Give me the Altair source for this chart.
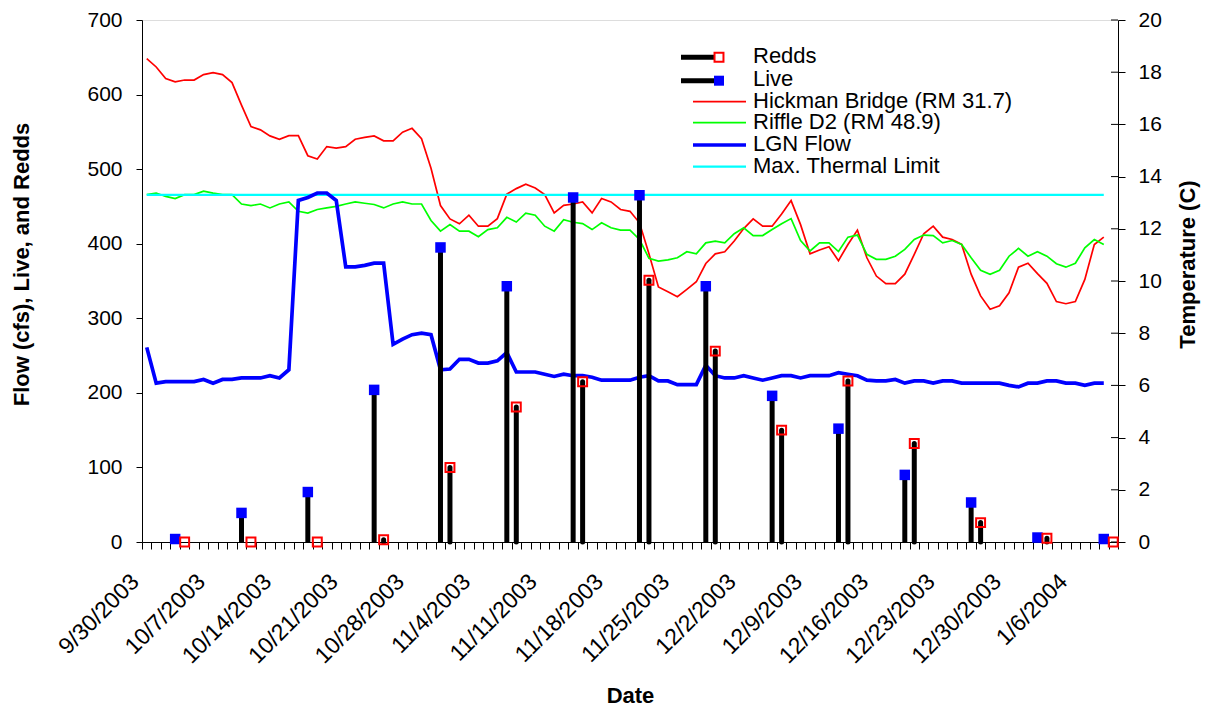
import altair as alt
import pandas as pd

# ---------------- data ----------------
START_DATE = "2003-09-30"
AXIS_DAYS = 103  # category slots on the date axis (9/30/2003 .. 1/11/2004)

HICKMAN = [18.52, 18.2, 17.76, 17.63, 17.7, 17.7, 17.91, 17.98, 17.91, 17.6,
           16.74, 15.92, 15.79, 15.56, 15.43, 15.57, 15.57, 14.8, 14.67, 15.15,
           15.09, 15.15, 15.43, 15.5, 15.56, 15.37, 15.37, 15.7, 15.85, 15.45,
           14.32, 12.89, 12.38, 12.19, 12.52, 12.1, 12.1, 12.39, 13.33, 13.54,
           13.71, 13.56, 13.31, 12.61, 12.9, 12.95, 13.03, 12.61, 13.16, 13.03,
           12.74, 12.67, 12.23, 11.04, 9.77, 9.59, 9.4, 9.68, 9.97, 10.67,
           11.04, 11.12, 11.53, 12.01, 12.38, 12.1, 12.1, 12.57, 13.08, 12.16,
           11.04, 11.19, 11.31, 10.78, 11.4, 11.95, 10.89, 10.19, 9.9, 9.9,
           10.26, 11.02, 11.81, 12.1, 11.68, 11.59, 11.4, 10.26, 9.43, 8.92,
           9.05, 9.55, 10.53, 10.68, 10.28, 9.91, 9.21, 9.13, 9.21, 10.06,
           11.4, 11.68]

RIFFLE = [13.31, 13.37, 13.24, 13.16, 13.31, 13.31, 13.44, 13.37, 13.31, 13.31,
          12.95, 12.89, 12.95, 12.8, 12.95, 13.03, 12.67, 12.6, 12.74, 12.8,
          12.86, 12.95, 13.03, 12.98, 12.93, 12.8, 12.95, 13.03, 12.95, 12.95,
          12.32, 11.91, 12.16, 11.91, 11.91, 11.7, 11.97, 12.04, 12.44, 12.26,
          12.6, 12.52, 12.1, 11.91, 12.35, 12.25, 12.2, 11.97, 12.23, 12.04,
          11.95, 11.95, 11.59, 10.87, 10.76, 10.81, 10.89, 11.12, 11.04, 11.46,
          11.53, 11.46, 11.81, 12.04, 11.74, 11.74, 11.97, 12.19, 12.39, 11.55,
          11.15, 11.46, 11.46, 11.13, 11.68, 11.76, 11.02, 10.83, 10.83, 10.95,
          11.21, 11.59, 11.76, 11.74, 11.46, 11.55, 11.4, 10.89, 10.41, 10.26,
          10.41, 10.95, 11.25, 10.95, 11.12, 10.95, 10.66, 10.53, 10.68, 11.27,
          11.59, 11.4]

LGN_FLOW = [261, 213, 215, 215, 215, 215, 218, 213, 218, 218,
            220, 220, 220, 223, 220, 231, 458, 462, 468, 468,
            458, 369, 369, 371, 374, 374, 265, 272, 278, 280,
            278, 231, 232, 245, 245, 240, 240, 243, 254, 228,
            228, 228, 225, 222, 225, 223, 223, 221, 217, 217,
            217, 217, 221, 223, 216, 216, 211, 211, 211, 237,
            223, 220, 220, 223, 220, 217, 220, 223, 223, 220,
            223, 223, 223, 227, 225, 223, 217, 216, 216, 218,
            213, 216, 216, 213, 216, 216, 213, 213, 213, 213,
            213, 210, 208, 213, 213, 216, 216, 213, 213, 210,
            213, 213]

MAX_THERMAL_LIMIT = 13.3

LIVE_DATES = ["2003-10-03", "2003-10-10", "2003-10-17", "2003-10-24", "2003-10-31",
              "2003-11-07", "2003-11-14", "2003-11-21", "2003-11-28", "2003-12-05",
              "2003-12-12", "2003-12-19", "2003-12-26", "2004-01-02", "2004-01-09"]
LIVE = [4, 39, 67, 204, 395, 343, 462, 465, 343, 196, 152, 90, 53, 6, 4]

REDDS_DATES = ["2003-10-04", "2003-10-11", "2003-10-18", "2003-10-25", "2003-11-01",
               "2003-11-08", "2003-11-15", "2003-11-22", "2003-11-29", "2003-12-06",
               "2003-12-13", "2003-12-20", "2003-12-27", "2004-01-03", "2004-01-10"]
REDDS = [0, 0, 0, 3, 100, 181, 215, 351, 256, 150, 216, 132, 26, 5, 0]

X_LABELS = ["9/30/2003", "10/7/2003", "10/14/2003", "10/21/2003", "10/28/2003",
            "11/4/2003", "11/11/2003", "11/18/2003", "11/25/2003", "12/2/2003",
            "12/9/2003", "12/16/2003", "12/23/2003", "12/30/2003", "1/6/2004"]
FLOW_TICKS = [0, 100, 200, 300, 400, 500, 600, 700]
TEMP_TICKS = [0, 2, 4, 6, 8, 10, 12, 14, 16, 18, 20]

LEGEND_LABELS = ["Redds", "Live", "Hickman Bridge (RM 31.7)", "Riffle D2 (RM 48.9)",
                 "LGN Flow", "Max. Thermal Limit"]

# ---------------- tables ----------------
start = pd.Timestamp(START_DATE)
n = len(HICKMAN)
daily = pd.DataFrame({
    "x": [i + 0.5 for i in range(n)],
    "hickman": HICKMAN,
    "riffle": RIFFLE,
    "flow": LGN_FLOW,
    "limit": [MAX_THERMAL_LIMIT] * n,
})


def day_pos(dates):
    return [(pd.Timestamp(d) - start).days + 0.5 for d in dates]


live_df = pd.DataFrame({"x": day_pos(LIVE_DATES), "v": LIVE, "base": 0})
redds_df = pd.DataFrame({"x": day_pos(REDDS_DATES), "v": REDDS, "base": 0})
redds_stem_df = redds_df[redds_df["v"] > 0]
temp_tick_df = pd.DataFrame({"t": TEMP_TICKS})

# ---------------- scales / axes ----------------
W, H = 976, 522
BLACK = "#000000"
FONT = "Liberation Sans"

labels_js = "[" + ",".join("'%s'" % s for s in X_LABELS) + "]"
x_scale = alt.Scale(domain=[0, AXIS_DAYS], nice=False, zero=False)
x_axis = alt.Axis(
    values=list(range(0, AXIS_DAYS + 1)),
    labelExpr="(datum.value %% 7 == 0 && datum.value / 7 < %d) ? %s[datum.value / 7] : ''"
              % (len(X_LABELS), labels_js),
    labelAngle=315, labelAlign="right", labelBaseline="top",
    labelOffset=-15, labelPadding=21, labelOverlap=False, labelBound=False,
    labelFlush=False, labelFontSize=23, labelColor=BLACK, labelFont=FONT,
    tickSize=7, tickColor=BLACK, domainColor=BLACK, grid=False,
    title="Date", titleFontSize=22, titleFontWeight="bold", titleColor=BLACK,
    titleFont=FONT, titleY=160, titleBaseline="alphabetic",
)

flow_scale = alt.Scale(domain=[0, 700], nice=False, zero=True)
flow_axis = alt.Axis(
    values=FLOW_TICKS, tickSize=6, labelPadding=14, labelFontSize=21,
    labelColor=BLACK, labelFont=FONT, tickColor=BLACK, domainColor=BLACK, grid=False,
    title="Flow (cfs), Live, and Redds", titleFontSize=22, titleFontWeight="bold",
    titleColor=BLACK, titleFont=FONT, titleAngle=270, titleX=-114, titleY=244,
    titleAlign="center", titleBaseline="alphabetic",
)

temp_scale = alt.Scale(domain=[0, 20], nice=False, zero=True)
temp_axis = alt.Axis(
    orient="right", values=TEMP_TICKS, tickSize=7, labelPadding=13, labelFontSize=21,
    labelColor=BLACK, labelFont=FONT, tickColor=BLACK, domainColor=BLACK, grid=False,
    title="Temperature (C)", titleFontSize=22, titleFontWeight="bold",
    titleColor=BLACK, titleFont=FONT, titleAngle=270, titleX=76, titleY=244,
    titleAlign="center", titleBaseline="alphabetic",
)

X = alt.X("x:Q", scale=x_scale, axis=x_axis)

# ---------------- temperature group ----------------
base_daily = alt.Chart(daily)
hick_line = base_daily.mark_line(color="#FF0000", strokeWidth=1.7).encode(
    x=X, y=alt.Y("hickman:Q", scale=temp_scale, axis=temp_axis))
riffle_line = base_daily.mark_line(color="#00FF00", strokeWidth=1.7).encode(
    x=X, y=alt.Y("riffle:Q", scale=temp_scale, axis=temp_axis))
limit_line = base_daily.mark_line(color="#00FFFF", strokeWidth=2.2).encode(
    x=X, y=alt.Y("limit:Q", scale=temp_scale, axis=temp_axis))
inner_ticks = alt.Chart(temp_tick_df).mark_rule(color=BLACK, strokeWidth=1).encode(
    x=alt.value(W - 7), x2=alt.value(W),
    y=alt.Y("t:Q", scale=temp_scale, axis=temp_axis))
temp_group = alt.layer(hick_line, riffle_line, limit_line, inner_ticks)

# ---------------- flow / counts group ----------------
flow_line = base_daily.mark_line(color="#0000FF", strokeWidth=3.7).encode(
    x=X, y=alt.Y("flow:Q", scale=flow_scale, axis=flow_axis))
live_stem = alt.Chart(live_df).mark_rule(color=BLACK, strokeWidth=5).encode(
    x=X, y=alt.Y("v:Q", scale=flow_scale, axis=flow_axis), y2="base:Q")
redds_stem = alt.Chart(redds_stem_df).mark_rule(color=BLACK, strokeWidth=5,
                                                strokeCap="round").encode(
    x=X, y=alt.Y("v:Q", scale=flow_scale, axis=flow_axis), y2="base:Q")
live_pts = alt.Chart(live_df).mark_square(size=110, color="#0000FF", opacity=1).encode(
    x=X, y=alt.Y("v:Q", scale=flow_scale, axis=flow_axis))
redds_pts = alt.Chart(redds_df).mark_square(size=80, filled=False, color="#FF0000",
                                            strokeWidth=2, opacity=1).encode(
    x=X, y=alt.Y("v:Q", scale=flow_scale, axis=flow_axis))

# ---------------- legend (drawn by hand) ----------------
one = pd.DataFrame({"k": [0]})
legend_layers = []
LEG_TEXT_X = 611
LEG_TEXT_Y = [42.7, 66, 88.3, 109.3, 130.7, 152.7]
LEG_LINE_Y = [37.3, 60.7, 81.7, 102.7, 125, 146.7]
for j, lab in enumerate(LEGEND_LABELS):
    legend_layers.append(
        alt.Chart(pd.DataFrame({"label": [lab]})).mark_text(
            align="left", baseline="alphabetic", fontSize=22, font=FONT, color=BLACK
        ).encode(x=alt.value(LEG_TEXT_X), y=alt.value(LEG_TEXT_Y[j]), text="label:N"))
# Redds / Live: thick black stem + marker
for j, (fill, mk) in enumerate([(False, "#FF0000"), (True, "#0000FF")]):
    legend_layers.append(alt.Chart(one).mark_rule(color=BLACK, strokeWidth=5).encode(
        x=alt.value(539), x2=alt.value(572), y=alt.value(LEG_LINE_Y[j])))
    if fill:
        legend_layers.append(alt.Chart(one).mark_square(size=100, color=mk, opacity=1).encode(
            x=alt.value(577), y=alt.value(LEG_LINE_Y[j])))
    else:
        legend_layers.append(alt.Chart(one).mark_square(size=80, filled=False, color=mk,
                                                        strokeWidth=2, opacity=1).encode(
            x=alt.value(577), y=alt.value(LEG_LINE_Y[j])))
for j, (col, sw) in zip([2, 3, 4, 5], [("#FF0000", 1.7), ("#00FF00", 1.7),
                                      ("#0000FF", 3.7), ("#00FFFF", 2.2)]):
    legend_layers.append(alt.Chart(one).mark_rule(color=col, strokeWidth=sw).encode(
        x=alt.value(551), x2=alt.value(604), y=alt.value(LEG_LINE_Y[j])))

flow_group = alt.layer(flow_line, live_stem, redds_stem, live_pts, redds_pts, *legend_layers)

chart = alt.layer(temp_group, flow_group).resolve_scale(y="independent").properties(
    width=W, height=H,
    autosize=alt.AutoSizeParams(type="none"),
    padding={"left": 134, "top": 12, "right": 83, "bottom": 169},
).configure_view(stroke=BLACK, strokeWidth=1).configure(font=FONT, background="white")

chart.save("out.html", embed_options={"renderer": "svg", "actions": False})
